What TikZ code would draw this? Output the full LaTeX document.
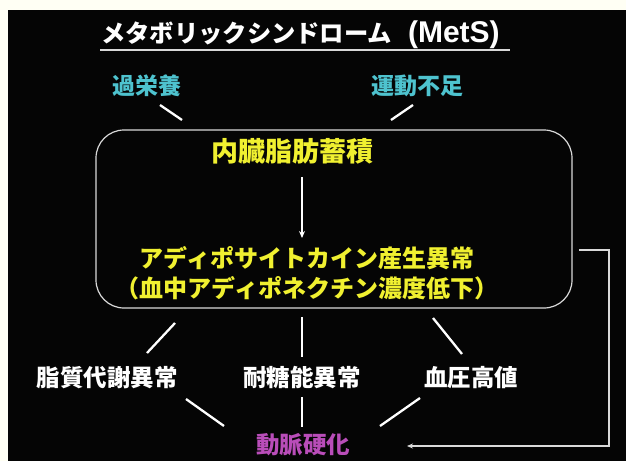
\documentclass[tikz,border=0pt]{standalone}
\usepackage{fontspec}
\newfontfamily\jp{Noto Sans CJK JP}
\newfontfamily\lat{Liberation Sans}
\usetikzlibrary{arrows.meta}
\definecolor{bg}{HTML}{050505}
\definecolor{paper}{HTML}{FFFFF4}
\definecolor{cyantxt}{HTML}{4EC3CF}
\definecolor{yellowtxt}{HTML}{F0F030}
\definecolor{magtxt}{HTML}{B94DB9}
\definecolor{boxline}{HTML}{DADADA}
\newcommand{\fsz}[1]{\fontsize{#1pt}{#1pt}\selectfont}
\tikzset{
  lbl/.style={inner sep=0pt, font=\jp\bfseries},
  seg/.style={draw=white, line width=2.3pt},
  frame/.style={draw=boxline, line width=1.2pt, rounded corners=28pt},
  fb/.style={draw=boxline, line width=1.5pt, -{Stealth[length=6pt,width=5pt]}},
}
\begin{document}
\begin{tikzpicture}[x=1pt,y=-1pt]
\useasboundingbox (0,0) rectangle (626,461);
\fill[paper] (0,0) rectangle (626,461);
\fill[bg] (8,10) rectangle (626,461);

% title
\node[lbl, white, anchor=west] (title) at (101,35) {\fsz{24.3}メタボリックシンドローム\hspace{16pt}{\lat\bfseries\fsz{30}(MetS)}};
\coordinate (ulA) at (100,50);
\coordinate (ulB) at (510,50);
\draw[white!85!black, line width=1.5pt] (ulA) -- (ulB);

% causes
\node[lbl, cyantxt] (over) at (147,86) {\fsz{23}過栄養};
\node[lbl, cyantxt] (lack) at (417,86) {\fsz{23}運動不足};
\coordinate (o1) at (160,105); \coordinate (o2) at (182,120);
\coordinate (l1) at (413,105); \coordinate (l2) at (391,120);
\draw[seg] (o1) -- (o2);
\draw[seg] (l1) -- (l2);

% box
\draw[frame] (96,130) rectangle (572,308);
\node[lbl, yellowtxt] (fat) at (292,151) {\fsz{27}内臓脂肪蓄積};
\node[lbl, yellowtxt] (adipo) at (307,258) {\fsz{24}アディポサイトカイン産生異常};
\node[lbl, yellowtxt] (adipo2) at (307,288) {\fsz{24}（血中アディポネクチン濃度低下）};
\coordinate (a1) at (302,177); \coordinate (a2) at (302,238);
\draw[white, line width=1.6pt, -{Stealth[length=7pt,width=6pt]}] (a1) -- (a2);

% consequences
\node[lbl, white] (lipid) at (107,378) {\fsz{23.5}脂質代謝異常};
\node[lbl, white] (gluc) at (302,378) {\fsz{23.5}耐糖能異常};
\node[lbl, white] (bp) at (471,378) {\fsz{23.5}血圧高値};
\node[lbl, magtxt] (ath) at (303,445) {\fsz{23.5}動脈硬化};

\coordinate (b1) at (175,323); \coordinate (b2) at (147,353);
\coordinate (c1) at (302,317); \coordinate (c2) at (302,357);
\coordinate (d1) at (433,318); \coordinate (d2) at (462,354);
\draw[seg] (b1) -- (b2);
\draw[seg] (c1) -- (c2);
\draw[seg] (d1) -- (d2);

\coordinate (e1) at (186,399); \coordinate (e2) at (224,426);
\coordinate (f1) at (302,397); \coordinate (f2) at (302,427);
\coordinate (g1) at (420,398); \coordinate (g2) at (380,426);
\draw[seg] (e1) -- (e2);
\draw[seg] (f1) -- (f2);
\draw[seg] (g1) -- (g2);

% feedback
\coordinate (fbA) at (579,250);
\coordinate (fbB) at (609,250);
\coordinate (fbC) at (609,446);
\coordinate (fbD) at (407,446);
\draw[fb] (fbA) -- (fbB) -- (fbC) -- (fbD);
\end{tikzpicture}
\end{document}
